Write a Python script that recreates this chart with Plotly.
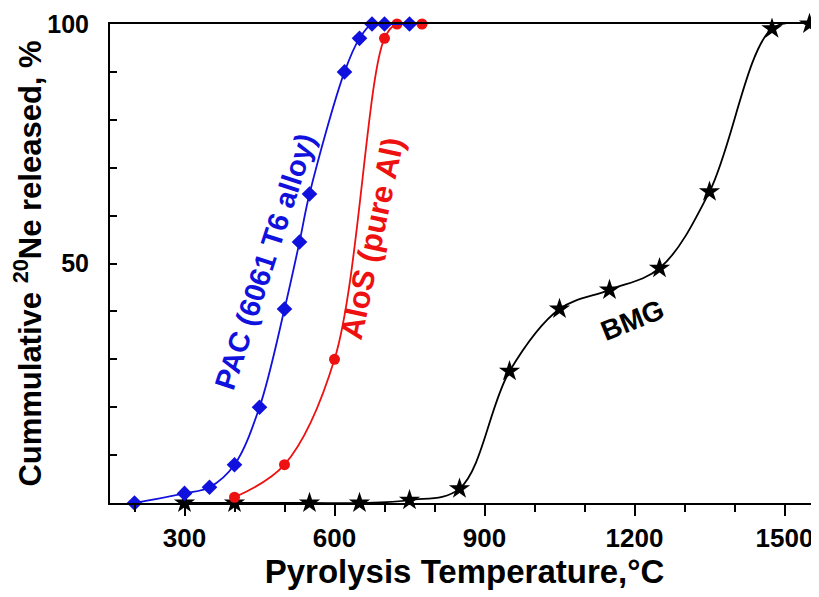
import plotly.graph_objects as go

# PAC (6061 T6 alloy) - blue diamonds
pac_T = [200, 300, 350, 400, 450, 500, 530, 550, 620, 650, 675, 700, 750]
pac_y = [0, 2, 3.3, 8, 20, 40.5, 54.5, 64.5, 90, 97, 100, 100, 100]

# AloS (pure Al) - red circles
alos_T = [400, 500, 600, 700, 725, 775]
alos_y = [1.2, 8, 30, 97, 100, 100]

# BMG - black stars
bmg_T = [300, 400, 550, 650, 750, 850, 950, 1050, 1150, 1250, 1350, 1475, 1550]
bmg_y = [0, 0, 0, 0, 0.6, 3, 27.5, 40.5, 44.5, 49, 65, 99, 100]

x_ticks = [300, 600, 900, 1200, 1500]
y_ticks = [50, 100]

FONT = "Liberation Sans, Arial, sans-serif"

fig = go.Figure()
fig.add_trace(go.Scatter(
    x=bmg_T, y=bmg_y, mode="lines+markers",
    line=dict(color="black", width=1.8, shape="spline", smoothing=1.0),
    marker=dict(symbol="star", size=16, color="black"),
    cliponaxis=False, showlegend=False))
fig.add_trace(go.Scatter(
    x=alos_T, y=alos_y, mode="lines+markers",
    line=dict(color="#ee1111", width=1.8, shape="spline", smoothing=1.0),
    marker=dict(symbol="circle", size=11, color="#ee1111"),
    cliponaxis=False, showlegend=False))
fig.add_trace(go.Scatter(
    x=pac_T, y=pac_y, mode="lines+markers",
    line=dict(color="#1111dd", width=1.8, shape="spline", smoothing=1.0),
    marker=dict(symbol="diamond", size=12, color="#1111dd"),
    cliponaxis=False, showlegend=False))

fig.add_annotation(x=461, y=50.3, text="<b>PAC (6061 T6 alloy)</b>", showarrow=False,
                   textangle=-72, font=dict(family=FONT, size=29, color="#1111dd"),
                   xref="x", yref="y")
fig.add_annotation(x=675, y=55.3, text="<b>AloS (pure Al)</b>", showarrow=False,
                   textangle=-78, font=dict(family=FONT, size=31, color="#ee1111"),
                   xref="x", yref="y")
fig.add_annotation(x=1195, y=38, text="<b>BMG</b>", showarrow=False,
                   textangle=-22, font=dict(family=FONT, size=28, color="black"),
                   xref="x", yref="y")

# page body has an 8px margin, so the figure is sized to the visible area
fig.update_layout(
    width=811, height=589,
    margin=dict(l=102, r=0, t=16, b=94),
    paper_bgcolor="white", plot_bgcolor="white",
    font=dict(family=FONT, color="black"),
    xaxis=dict(
        range=[151, 1569], automargin=False,
        tickvals=x_ticks, ticktext=[f"<b>{v}</b>" for v in x_ticks],
        ticks="outside", ticklen=11, tickwidth=1.5, tickcolor="black",
        minor=dict(dtick=100, tick0=0, ticks="outside", ticklen=7, tickwidth=1.5, tickcolor="black"),
        showline=True, linecolor="black", linewidth=2, mirror=True,
        showgrid=False, zeroline=False,
        tickfont=dict(family=FONT, size=26, color="black"),
        title=dict(text="<b>Pyrolysis Temperature,°C</b>", font=dict(family=FONT, size=33, color="black"), standoff=4),
    ),
    yaxis=dict(
        range=[0, 100], automargin=False,
        tickvals=y_ticks, ticktext=[f"<b>{t}</b>" for t in y_ticks],
        ticks="inside", ticklen=7, tickwidth=1.5, tickcolor="black",
        minor=dict(dtick=10, tick0=0, ticks="inside", ticklen=7, tickwidth=1.5, tickcolor="black"),
        showline=True, linecolor="black", linewidth=2,
        showgrid=False, zeroline=False,
        tickfont=dict(family=FONT, size=25, color="black"),
        ticklabelstandoff=14,
        title=dict(text="<b>Cummulative <sup>20</sup>Ne released, %</b>", font=dict(family=FONT, size=31, color="black"), standoff=8),
    ),
)

fig.write_html("out.html")
